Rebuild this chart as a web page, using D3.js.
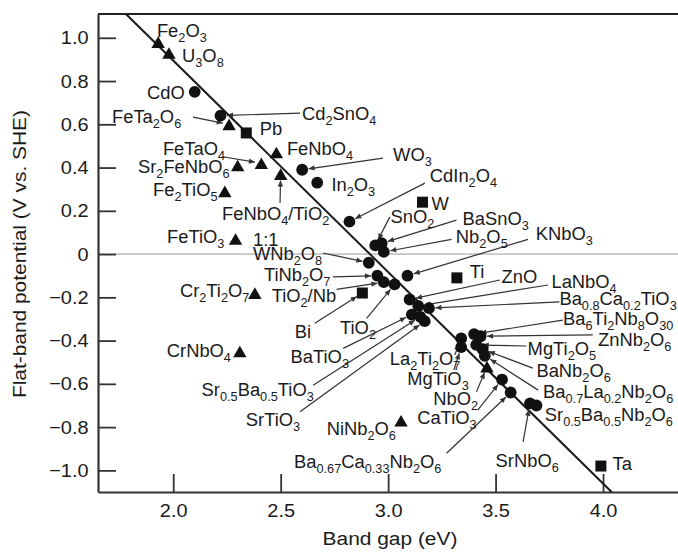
<!DOCTYPE html>
<html>
<head>
<meta charset="utf-8">
<script src="https://cdn.jsdelivr.net/npm/d3@7"></script>
<style>
body { margin: 0; background: #fff; }
text { font-family: "Liberation Sans", Arial, Helvetica, sans-serif; fill: #1a1a1a; }
</style>
</head>
<body>
<div id="chart"></div>
<script>
// ---- data (band gap in eV, flat-band potential in V vs. SHE) ----
// {n} marks a subscript
var compounds = [
  "Fe{2}O{3}", "U{3}O{8}", "FeTa{2}O{6}", "FeNbO{4}", "FeTaO{4}", "Sr{2}FeNbO{6}",
  "FeNbO{4}/TiO{2}", "Fe{2}TiO{5}", "FeTiO{3}", "Cr{2}Ti{2}O{7}", "CrNbO{4}", "NiNb{2}O{6}", "NbO{2}",
  "Pb", "W", "Ti", "Bi", "Ta",
  "CdO", "Cd{2}SnO{4}", "WO{3}", "In{2}O{3}", "CdIn{2}O{4}", "SnO{2}", "BaSnO{3}", "Nb{2}O{5}",
  "WNb{2}O{8}", "KNbO{3}", "TiNb{2}O{7}", "TiO{2}/Nb", "TiO{2}", "ZnO", "LaNbO{4}",
  "Ba{0.8}Ca{0.2}TiO{3}", "BaTiO{3}", "Sr{0.5}Ba{0.5}TiO{3}", "SrTiO{3}", "La{2}Ti{2}O{7}",
  "Ba{6}Ti{2}Nb{8}O{30}", "ZnNb{2}O{6}", "MgTiO{3}", "MgTi{2}O{5}", "BaNb{2}O{6}",
  "Ba{0.7}La{0.2}Nb{2}O{6}", "CaTiO{3}", "Ba{0.67}Ca{0.33}Nb{2}O{6}", "SrNbO{6}", "Sr{0.5}Ba{0.5}Nb{2}O{6}"
];
var markerType = [
  "tri", "tri", "tri", "tri", "tri", "tri", "tri", "tri", "tri", "tri", "tri", "tri", "tri",
  "sq", "sq", "sq", "sq", "sq",
  "dot", "dot", "dot", "dot", "dot", "dot", "dot", "dot", "dot", "dot", "dot", "dot", "dot", "dot",
  "dot", "dot", "dot", "dot", "dot", "dot", "dot", "dot", "dot", "dot", "dot", "dot", "dot", "dot",
  "dot", "dot"
];
var bandGap = [
  1.93, 1.98, 2.26, 2.48, 2.41, 2.30, 2.50, 2.24, 2.29, 2.38, 2.31, 3.06, 3.46,
  2.34, 3.16, 3.32, 2.88, 3.99,
  2.10, 2.22, 2.60, 2.67, 2.82, 2.94, 2.97, 2.98, 2.91, 3.09, 2.95, 2.98, 3.03, 3.10,
  3.14, 3.19, 3.11, 3.15, 3.17, 3.34, 3.40, 3.43, 3.34, 3.41, 3.44, 3.45, 3.53, 3.57,
  3.66, 3.69
];
var flatBand = [
  0.98, 0.93, 0.60, 0.47, 0.42, 0.41, 0.37, 0.29, 0.07, -0.18, -0.45, -0.77, -0.52,
  0.56, 0.24, -0.11, -0.18, -0.98,
  0.75, 0.64, 0.39, 0.33, 0.15, 0.04, 0.05, 0.01, -0.04, -0.10, -0.10, -0.13, -0.14, -0.21,
  -0.24, -0.25, -0.28, -0.29, -0.31, -0.39, -0.37, -0.38, -0.43, -0.42, -0.44, -0.47, -0.58, -0.64,
  -0.69, -0.70
];
// the 1:1 trend line
var fitBandGap = [1.78, 4.04];
var fitPotential = [1.11, -1.10];

var xTicks = [2.0, 2.5, 3.0, 3.5, 4.0];
var xTickLabels = ["2.0", "2.5", "3.0", "3.5", "4.0"];
var yTicks = [1.0, 0.8, 0.6, 0.4, 0.2, 0, -0.2, -0.4, -0.6, -0.8, -1.0];
var yTickLabels = ["1.0", "0.8", "0.6", "0.4", "0.2", "0", "\u22120.2", "\u22120.4", "\u22120.6", "\u22120.8", "\u22121.0"];

// label placement in axis units: [text x, text baseline y, arrow tail x, arrow tail y]
var labelSpots = [
  [1.924, 1.003], [2.041, 0.888], [1.715, 0.606, 2.092, 0.633], [2.529, 0.458],
  [1.952, 0.458, 2.23, 0.450], [1.836, 0.374], [2.227, 0.157, 2.497, 0.236], [1.906, 0.268],
  [1.971, 0.051], [2.031, -0.199], [1.97, -0.476], [2.714, -0.837], [3.21, -0.698, 3.411, -0.637],
  [2.403, 0.550], [3.202, 0.203], [3.38, -0.111], [2.566, -0.388, 2.659, -0.320], [4.044, -0.999],
  [1.878, 0.717], [2.599, 0.620, 2.59, 0.652], [3.023, 0.430, 2.976, 0.444], [2.736, 0.291],
  [3.194, 0.333, 3.171, 0.328], [3.011, 0.143, 3.008, 0.172], [3.346, 0.134, 3.318, 0.157],
  [3.315, 0.051, 3.295, 0.068], [2.371, -0.028, 2.697, 0.005], [3.687, 0.065, 3.651, 0.068],
  [2.422, -0.125, 2.743, -0.105], [2.458, -0.222, 2.76, -0.163], [2.776, -0.370, 2.90, -0.297],
  [3.528, -0.134, 3.52, -0.120], [3.76, -0.157, 3.744, -0.143], [3.797, -0.236, 3.797, -0.221],
  [2.546, -0.504, 2.791, -0.436], [2.132, -0.656, 2.651, -0.606], [2.338, -0.795, 2.59, -0.729],
  [3.008, -0.513, 3.31, -0.467], [3.814, -0.328, 3.813, -0.305], [3.977, -0.425, 3.952, -0.374],
  [3.089, -0.606, 3.306, -0.536], [3.649, -0.467, 3.644, -0.425], [3.69, -0.569, 3.673, -0.527],
  [3.721, -0.666, 3.698, -0.629], [3.135, -0.786, 3.417, -0.721], [2.562, -0.989, 3.272, -0.921],
  [3.5, -0.985, 3.628, -0.868], [3.729, -0.772]
];
var notes = [{ text: "1:1", x: 2.371, y: 0.037 }];

// ---- chart ----
var width = 678, height = 553;
var margin = { top: 14, left: 98, bottom: 61 };
var plotW = 591;

var svg = d3.select("#chart").append("svg")
  .attr("width", width)
  .attr("height", height);

var x = d3.scaleLinear().domain([1.65, 4.4]).range([margin.left, margin.left + plotW]);
var y = d3.scaleLinear().domain([-1.1, 1.11]).range([height - margin.bottom, margin.top]);

var defs = svg.append("defs");
defs.append("marker")
  .attr("id", "head")
  .attr("viewBox", "0 0 10 10")
  .attr("refX", 10).attr("refY", 5)
  .attr("markerWidth", 8).attr("markerHeight", 6)
  .attr("markerUnits", "userSpaceOnUse")
  .attr("orient", "auto")
  .append("path")
  .attr("d", "M0,0.5L10,5L0,9.5Z")
  .attr("fill", "#333");

// zero line
svg.append("line")
  .attr("x1", x(1.65)).attr("x2", x(4.4))
  .attr("y1", y(0)).attr("y2", y(0))
  .attr("stroke", "#c4c4c4").attr("stroke-width", 1.6);

// axes
var yAxis = d3.axisLeft(y)
  .tickValues(yTicks)
  .tickFormat(function(d, i) { return yTickLabels[i]; })
  .tickSize(-18).tickSizeOuter(0).tickPadding(9);
var xAxis = d3.axisBottom(x)
  .tickValues(xTicks)
  .tickFormat(function(d, i) { return xTickLabels[i]; })
  .tickSize(-18).tickSizeOuter(0).tickPadding(12);

var gy = svg.append("g").attr("transform", "translate(" + margin.left + ",0)").call(yAxis);
var gx = svg.append("g").attr("transform", "translate(0," + (height - margin.bottom) + ")").call(xAxis);

[gx, gy].forEach(function(g) {
  g.select(".domain").attr("stroke", "#333").attr("stroke-width", 2.2);
  g.selectAll(".tick line").attr("stroke", "#333").attr("stroke-width", 1.8);
  g.selectAll(".tick text")
    .attr("font-family", "Liberation Sans, Arial, sans-serif")
    .attr("font-size", 19)
    .attr("fill", "#1a1a1a")
    .attr("transform", "scale(1.05,1)");
});

// top frame line
svg.append("line")
  .attr("x1", x(1.65)).attr("x2", x(4.4))
  .attr("y1", y(1.11)).attr("y2", y(1.11))
  .attr("stroke", "#222").attr("stroke-width", 2.2);

// axis titles
svg.append("text")
  .attr("transform", "translate(" + (x(1.65) + 292) + ",545) scale(1.1,1)")
  .attr("text-anchor", "middle")
  .attr("font-size", 19)
  .text("Band gap (eV)");
svg.append("text")
  .attr("transform", "translate(26," + y(0) + ") rotate(-90) scale(1.1,1)")
  .attr("text-anchor", "middle")
  .attr("font-size", 19)
  .text("Flat-band potential (V vs. SHE)");

// trend line
var idx = d3.range(fitBandGap.length);
svg.append("path")
  .datum(idx)
  .attr("d", d3.line()
    .x(function(i) { return x(fitBandGap[i]); })
    .y(function(i) { return y(fitPotential[i]); }))
  .attr("fill", "none")
  .attr("stroke", "#1a1a1a")
  .attr("stroke-width", 2);

var points = compounds.map(function(name, i) {
  return { name: name, type: markerType[i], gap: bandGap[i], efb: flatBand[i], spot: labelSpots[i] };
});

// leader arrows
points.filter(function(d) { return d.spot.length > 2; }).forEach(function(d) {
  var x0 = x(d.spot[2]), y0 = y(d.spot[3]);
  var x1 = x(d.gap), y1 = y(d.efb);
  var dx = x1 - x0, dy = y1 - y0, len = Math.sqrt(dx * dx + dy * dy);
  var cut = 6.5;
  svg.append("line")
    .attr("x1", x0).attr("y1", y0)
    .attr("x2", x1 - dx / len * cut).attr("y2", y1 - dy / len * cut)
    .attr("stroke", "#333").attr("stroke-width", 1.2)
    .attr("marker-end", "url(#head)");
});

// markers
var triSym = d3.symbol().type(d3.symbolTriangle).size(78);
var markers = svg.append("g").attr("class", "markers");
points.forEach(function(d) {
  var px = x(d.gap), py = y(d.efb);
  if (d.type === "dot") {
    markers.append("circle").attr("cx", px).attr("cy", py).attr("r", 5.9).attr("fill", "#111");
  } else if (d.type === "sq") {
    markers.append("rect").attr("x", px - 5.5).attr("y", py - 5.5)
      .attr("width", 11).attr("height", 11).attr("fill", "#111");
  } else {
    markers.append("path").attr("d", triSym)
      .attr("transform", "translate(" + px + "," + (py + 2) + ")")
      .attr("fill", "#111");
  }
});

// labels with subscripts
function richText(sel, s) {
  var parts = s.split(/(\{[^}]*\})/).filter(function(p) { return p.length; });
  var inSub = false;
  parts.forEach(function(p) {
    var isSub = p.charAt(0) === "{";
    var t = sel.append("tspan").text(isSub ? p.slice(1, -1) : p);
    if (isSub) {
      t.attr("font-size", 12.5).attr("dy", inSub ? 0 : 5);
    } else {
      t.attr("dy", inSub ? -5 : 0);
    }
    inSub = isSub;
  });
}

var labels = svg.append("g").attr("class", "labels");
points.forEach(function(d) {
  var t = labels.append("text")
    .attr("transform", "translate(" + x(d.spot[0]) + "," + y(d.spot[1]) + ") scale(1.02,1)")
    .attr("font-size", 18);
  richText(t, d.name);
});
notes.forEach(function(n) {
  labels.append("text")
    .attr("transform", "translate(" + x(n.x) + "," + y(n.y) + ") scale(1.02,1)")
    .attr("font-size", 18)
    .text(n.text);
});
</script>
</body>
</html>
